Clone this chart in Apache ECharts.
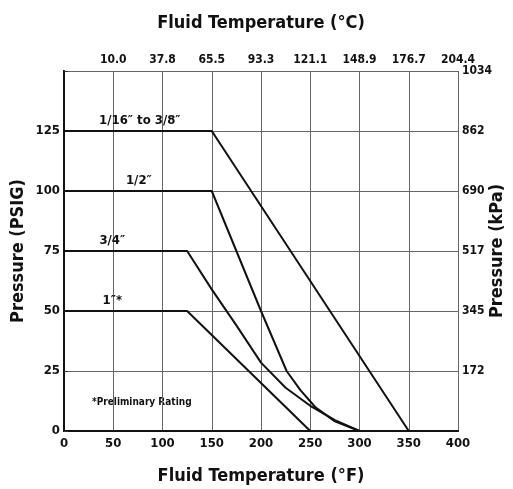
<!DOCTYPE html>
<html>
<head>
<meta charset="utf-8">
<script src="https://cdn.jsdelivr.net/npm/echarts@6/dist/echarts.min.js"></script>
<style>
  html, body { margin: 0; padding: 0; background: #fff; }
  #chart { width: 513px; height: 489px; }
</style>
</head>
<body>
<div id="chart"></div>
<script>
// Fahrenheit ticks on the bottom, Celsius equivalents on top
const fTicks = [0, 50, 100, 150, 200, 250, 300, 350, 400];
const cLabels = ['', '10.0', '37.8', '65.5', '93.3', '121.1', '148.9', '176.7', '204.4'];
// PSIG ticks on the left, kPa equivalents on the right
const psiLabels = ['0', '25', '50', '75', '100', '125', ''];
const kpaLabels = ['', '172', '345', '517', '690', '862', '1034'];

// rating curves [°F, PSIG]
const size1_16to3_8 = [[0, 125], [150, 125], [350, 0]];
const size1_2 = [[0, 100], [150, 100], [175, 75], [200, 50], [226, 25], [240, 17], [255, 10], [275, 4], [300, 0]];
const size3_4 = [[0, 75], [125, 75], [150, 59], [175, 44], [200, 28.5], [225, 18], [250, 10.5], [275, 4.5], [300, 0]];
const size1 = [[0, 50], [125, 50], [250, 0]];

const curveNames = ['1/16\u2033 to 3/8\u2033', '1/2\u2033', '3/4\u2033', '1\u2033*'];
const curveLabelAt = [[77, 125], [76, 100], [49, 75], [49, 50]];

const FONT = '"Liberation Sans Narrow", "DejaVu Sans Condensed", sans-serif';

const chart = echarts.init(document.getElementById('chart'));

const lineStyle = { color: '#111', width: 2 };
function curve(name, data) {
  return {
    name: name, type: 'line', data: data, symbol: 'none',
    lineStyle: lineStyle, silent: true, z: 5
  };
}

const nameStyle = { fontFamily: FONT, fontWeight: 'bold', fontSize: 18, color: '#111' };
const sideNameStyle = Object.assign({}, nameStyle, { align: 'center', verticalAlign: 'middle' });

const option = {
  animation: false,
  backgroundColor: '#fff',
  textStyle: { fontFamily: FONT },
  grid: { left: 64, right: 55, top: 71, bottom: 58, outerBoundsMode: 'none', containLabel: false },
  xAxis: [
    {
      type: 'value', position: 'bottom', min: 0, max: 400, interval: 50,
      name: 'Fluid Temperature (\u00b0F)', nameLocation: 'middle', nameGap: 36, nameMoveOverlap: false,
      nameTextStyle: nameStyle,
      axisLine: { show: true, lineStyle: { color: '#111', width: 1.8 } },
      axisTick: { show: false },
      axisLabel: { fontFamily: FONT, fontWeight: 'bold', fontSize: 13, color: '#111', margin: 6 },
      splitLine: { show: true, lineStyle: { color: '#666', width: 1 } }
    },
    {
      type: 'value', position: 'top', min: 0, max: 400, interval: 50,
      name: 'Fluid Temperature (\u00b0C)', nameLocation: 'middle', nameGap: 39, nameMoveOverlap: false,
      nameTextStyle: nameStyle,
      axisLine: { show: true, lineStyle: { color: '#111', width: 1.8 } },
      axisTick: { show: false },
      axisLabel: {
        fontFamily: FONT, fontWeight: 'bold', fontSize: 12, color: '#111', margin: 5,
        formatter: v => cLabels[fTicks.indexOf(v)]
      },
      splitLine: { show: false }
    }
  ],
  yAxis: [
    {
      type: 'value', position: 'left', min: 0, max: 150, interval: 25,
      name: 'Pressure (PSIG)', nameLocation: 'middle', nameGap: 46, nameRotate: 90, nameMoveOverlap: false,
      nameTextStyle: sideNameStyle,
      axisLine: { show: true, lineStyle: { color: '#111', width: 1.8 } },
      axisTick: { show: false },
      axisLabel: {
        fontFamily: FONT, fontWeight: 'bold', fontSize: 13, color: '#111', margin: 4,
        formatter: v => psiLabels[v / 25]
      },
      splitLine: { show: true, lineStyle: { color: '#666', width: 1 } }
    },
    {
      type: 'value', position: 'right', min: 0, max: 150, interval: 25,
      name: 'Pressure (kPa)', nameLocation: 'middle', nameGap: 39, nameRotate: 90, nameMoveOverlap: false,
      nameTextStyle: sideNameStyle,
      axisLine: { show: true, lineStyle: { color: '#111', width: 1.8 } },
      axisTick: { show: true, length: 4, lineStyle: { color: '#333' } },
      axisLabel: {
        fontFamily: FONT, fontWeight: 'bold', fontSize: 12, color: '#111', margin: 4,
        formatter: v => kpaLabels[v / 25]
      },
      splitLine: { show: false }
    }
  ],
  series: [
    curve(curveNames[0], size1_16to3_8),
    curve(curveNames[1], size1_2),
    curve(curveNames[2], size3_4),
    curve(curveNames[3], size1),
    {
      name: 'labels', type: 'scatter', symbolSize: 0, silent: true, z: 6,
      itemStyle: { color: '#111', opacity: 1 },
      data: curveNames.map((n, i) => ({ value: curveLabelAt[i], name: n })),
      label: {
        show: true, position: 'top', distance: 4, opacity: 1,
        formatter: p => p.name,
        fontFamily: FONT, fontWeight: 'bold', fontSize: 13, color: '#111'
      }
    }
  ],
  graphic: [
    {
      type: 'text', left: 92, top: 397,
      style: { text: '*Preliminary Rating', font: 'bold 10px ' + FONT, fill: '#111' }
    }
  ]
};

chart.setOption(option);
</script>
</body>
</html>
